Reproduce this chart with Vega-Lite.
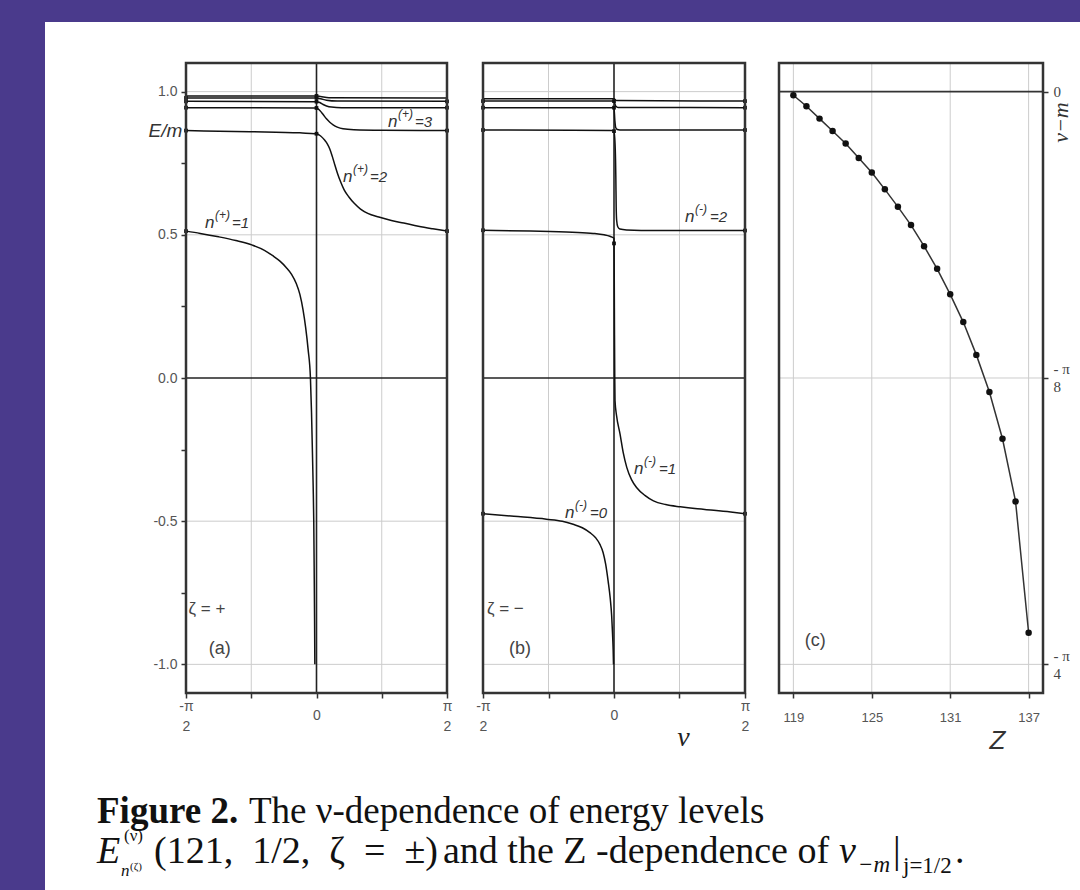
{
"$schema":"https://vega.github.io/schema/vega-lite/v6.json",
"width":1035,"height":868,"autosize":"none",
"padding":{"left":45,"top":22,"right":0,"bottom":0},
"background":"#4a3a8c",
"config":{"view":{"fill":"white","stroke":null}},
"datasets":{
"gridab":[{"d":"v","k":"l","v":-0.7853982},{"d":"v","k":"l","v":0.7853982},{"d":"h","k":"l","v":1},{"d":"h","k":"l","v":0.5},{"d":"h","k":"l","v":-0.5},{"d":"h","k":"l","v":-1},{"d":"v","k":"d","v":0},{"d":"h","k":"d","v":0}],
"gridc":[{"d":"v","k":"l","v":119},{"d":"v","k":"l","v":125},{"d":"v","k":"l","v":131},{"d":"v","k":"l","v":137},{"d":"h","k":"l","v":-0.3926991},{"d":"h","k":"l","v":-0.7853982},{"d":"h","k":"d","v":0}],
"curves":[
{"p":"a","s":"a1","nu":-1.5708,"E":0.513},{"p":"a","s":"a1","nu":-1.4,"E":0.505},{"p":"a","s":"a1","nu":-1.178,"E":0.493},{"p":"a","s":"a1","nu":-0.971,"E":0.48},{"p":"a","s":"a1","nu":-0.771,"E":0.464},{"p":"a","s":"a1","nu":-0.627,"E":0.446},{"p":"a","s":"a1","nu":-0.527,"E":0.427},{"p":"a","s":"a1","nu":-0.44,"E":0.408},{"p":"a","s":"a1","nu":-0.365,"E":0.386},{"p":"a","s":"a1","nu":-0.3,"E":0.362},{"p":"a","s":"a1","nu":-0.2435,"E":0.33},{"p":"a","s":"a1","nu":-0.2,"E":0.292},{"p":"a","s":"a1","nu":-0.162,"E":0.238},{"p":"a","s":"a1","nu":-0.13,"E":0.175},{"p":"a","s":"a1","nu":-0.101,"E":0.1},{"p":"a","s":"a1","nu":-0.073,"E":0.0},{"p":"a","s":"a1","nu":-0.06,"E":-0.12},{"p":"a","s":"a1","nu":-0.0487,"E":-0.264},{"p":"a","s":"a1","nu":-0.04,"E":-0.38},{"p":"a","s":"a1","nu":-0.033,"E":-0.499},{"p":"a","s":"a1","nu":-0.027,"E":-0.7},{"p":"a","s":"a1","nu":-0.023,"E":-0.85},{"p":"a","s":"a1","nu":-0.02,"E":-1.0},
{"p":"a","s":"a2","nu":-1.5708,"E":0.864},{"p":"a","s":"a2","nu":-0.8,"E":0.86},{"p":"a","s":"a2","nu":-0.2,"E":0.856},{"p":"a","s":"a2","nu":-0.02,"E":0.853},{"p":"a","s":"a2","nu":0.0,"E":0.853},{"p":"a","s":"a2","nu":0.05,"E":0.845},{"p":"a","s":"a2","nu":0.1,"E":0.83},{"p":"a","s":"a2","nu":0.13,"E":0.818},{"p":"a","s":"a2","nu":0.16,"E":0.8},{"p":"a","s":"a2","nu":0.191,"E":0.773},{"p":"a","s":"a2","nu":0.22,"E":0.745},{"p":"a","s":"a2","nu":0.252,"E":0.715},{"p":"a","s":"a2","nu":0.29,"E":0.685},{"p":"a","s":"a2","nu":0.333,"E":0.657},{"p":"a","s":"a2","nu":0.39,"E":0.632},{"p":"a","s":"a2","nu":0.454,"E":0.61},{"p":"a","s":"a2","nu":0.53,"E":0.59},{"p":"a","s":"a2","nu":0.617,"E":0.575},{"p":"a","s":"a2","nu":0.75,"E":0.562},{"p":"a","s":"a2","nu":0.901,"E":0.55},{"p":"a","s":"a2","nu":1.05,"E":0.541},{"p":"a","s":"a2","nu":1.226,"E":0.53},{"p":"a","s":"a2","nu":1.4,"E":0.521},{"p":"a","s":"a2","nu":1.5708,"E":0.513},
{"p":"a","s":"a3","nu":-1.5708,"E":0.944},{"p":"a","s":"a3","nu":-0.02,"E":0.943},{"p":"a","s":"a3","nu":0.0,"E":0.943},{"p":"a","s":"a3","nu":0.04,"E":0.934},{"p":"a","s":"a3","nu":0.08,"E":0.92},{"p":"a","s":"a3","nu":0.12,"E":0.905},{"p":"a","s":"a3","nu":0.16,"E":0.893},{"p":"a","s":"a3","nu":0.2,"E":0.884},{"p":"a","s":"a3","nu":0.25,"E":0.876},{"p":"a","s":"a3","nu":0.32,"E":0.87},{"p":"a","s":"a3","nu":0.45,"E":0.867},{"p":"a","s":"a3","nu":0.8,"E":0.865},{"p":"a","s":"a3","nu":1.5708,"E":0.864},
{"p":"a","s":"a4","nu":-1.5708,"E":0.966},{"p":"a","s":"a4","nu":0.0,"E":0.965},{"p":"a","s":"a4","nu":0.04,"E":0.962},{"p":"a","s":"a4","nu":0.08,"E":0.955},{"p":"a","s":"a4","nu":0.12,"E":0.95},{"p":"a","s":"a4","nu":0.18,"E":0.946},{"p":"a","s":"a4","nu":0.3,"E":0.944},{"p":"a","s":"a4","nu":1.5708,"E":0.944},
{"p":"a","s":"a5","nu":-1.5708,"E":0.978},{"p":"a","s":"a5","nu":0.0,"E":0.978},{"p":"a","s":"a5","nu":0.05,"E":0.975},{"p":"a","s":"a5","nu":0.12,"E":0.97},{"p":"a","s":"a5","nu":0.25,"E":0.967},{"p":"a","s":"a5","nu":1.5708,"E":0.966},
{"p":"a","s":"a6","nu":-1.5708,"E":0.985},{"p":"a","s":"a6","nu":0.0,"E":0.985},{"p":"a","s":"a6","nu":0.05,"E":0.983},{"p":"a","s":"a6","nu":0.15,"E":0.979},{"p":"a","s":"a6","nu":1.5708,"E":0.978},
{"p":"b","s":"b0","nu":-1.5708,"E":-0.474},{"p":"b","s":"b0","nu":-1.2,"E":-0.483},{"p":"b","s":"b0","nu":-0.811,"E":-0.493},{"p":"b","s":"b0","nu":-0.62,"E":-0.5},{"p":"b","s":"b0","nu":-0.49,"E":-0.511},{"p":"b","s":"b0","nu":-0.38,"E":-0.523},{"p":"b","s":"b0","nu":-0.289,"E":-0.54},{"p":"b","s":"b0","nu":-0.22,"E":-0.558},{"p":"b","s":"b0","nu":-0.169,"E":-0.581},{"p":"b","s":"b0","nu":-0.13,"E":-0.61},{"p":"b","s":"b0","nu":-0.1,"E":-0.65},{"p":"b","s":"b0","nu":-0.07,"E":-0.71},{"p":"b","s":"b0","nu":-0.045,"E":-0.77},{"p":"b","s":"b0","nu":-0.028,"E":-0.83},{"p":"b","s":"b0","nu":-0.018,"E":-0.89},{"p":"b","s":"b0","nu":-0.01,"E":-0.95},{"p":"b","s":"b0","nu":-0.006,"E":-1.0},
{"p":"b","s":"b1","nu":-1.5708,"E":0.516},{"p":"b","s":"b1","nu":-1.0,"E":0.513},{"p":"b","s":"b1","nu":-0.5,"E":0.509},{"p":"b","s":"b1","nu":-0.25,"E":0.505},{"p":"b","s":"b1","nu":-0.12,"E":0.5},{"p":"b","s":"b1","nu":-0.05,"E":0.495},{"p":"b","s":"b1","nu":-0.01,"E":0.49},{"p":"b","s":"b1","nu":0.0,"E":0.488},{"p":"b","s":"b1","nu":0.003,"E":0.35},{"p":"b","s":"b1","nu":0.006,"E":0.15},{"p":"b","s":"b1","nu":0.009,"E":0.0},{"p":"b","s":"b1","nu":0.012,"E":-0.079},{"p":"b","s":"b1","nu":0.03,"E":-0.13},{"p":"b","s":"b1","nu":0.072,"E":-0.195},{"p":"b","s":"b1","nu":0.11,"E":-0.26},{"p":"b","s":"b1","nu":0.153,"E":-0.312},{"p":"b","s":"b1","nu":0.21,"E":-0.355},{"p":"b","s":"b1","nu":0.273,"E":-0.383},{"p":"b","s":"b1","nu":0.37,"E":-0.41},{"p":"b","s":"b1","nu":0.473,"E":-0.429},{"p":"b","s":"b1","nu":0.62,"E":-0.442},{"p":"b","s":"b1","nu":0.795,"E":-0.45},{"p":"b","s":"b1","nu":1.0,"E":-0.457},{"p":"b","s":"b1","nu":1.196,"E":-0.462},{"p":"b","s":"b1","nu":1.4,"E":-0.468},{"p":"b","s":"b1","nu":1.5708,"E":-0.474},
{"p":"b","s":"b2","nu":-1.5708,"E":0.866},{"p":"b","s":"b2","nu":-0.5,"E":0.865},{"p":"b","s":"b2","nu":-0.02,"E":0.864},{"p":"b","s":"b2","nu":0.0,"E":0.862},{"p":"b","s":"b2","nu":0.015,"E":0.8},{"p":"b","s":"b2","nu":0.022,"E":0.7},{"p":"b","s":"b2","nu":0.026,"E":0.6},{"p":"b","s":"b2","nu":0.032,"E":0.55},{"p":"b","s":"b2","nu":0.045,"E":0.528},{"p":"b","s":"b2","nu":0.07,"E":0.52},{"p":"b","s":"b2","nu":0.15,"E":0.517},{"p":"b","s":"b2","nu":0.5,"E":0.515},{"p":"b","s":"b2","nu":1.5708,"E":0.515},
{"p":"b","s":"b3","nu":-1.5708,"E":0.944},{"p":"b","s":"b3","nu":0.0,"E":0.944},{"p":"b","s":"b3","nu":0.01,"E":0.9},{"p":"b","s":"b3","nu":0.02,"E":0.875},{"p":"b","s":"b3","nu":0.04,"E":0.868},{"p":"b","s":"b3","nu":0.1,"E":0.866},{"p":"b","s":"b3","nu":1.5708,"E":0.866},
{"p":"b","s":"b4","nu":-1.5708,"E":0.967},{"p":"b","s":"b4","nu":0.0,"E":0.967},{"p":"b","s":"b4","nu":0.02,"E":0.95},{"p":"b","s":"b4","nu":0.05,"E":0.945},{"p":"b","s":"b4","nu":1.5708,"E":0.944},
{"p":"b","s":"b5","nu":-1.5708,"E":0.975},{"p":"b","s":"b5","nu":0.0,"E":0.975},{"p":"b","s":"b5","nu":0.03,"E":0.969},{"p":"b","s":"b5","nu":1.5708,"E":0.967}
],
"ends":[
{"p":"a","nu":-1.5708,"E":0.513},{"p":"a","nu":-1.5708,"E":0.864},{"p":"a","nu":-1.5708,"E":0.944},{"p":"a","nu":-1.5708,"E":0.966},{"p":"a","nu":-1.5708,"E":0.978},
{"p":"a","nu":1.5708,"E":0.513},{"p":"a","nu":1.5708,"E":0.864},{"p":"a","nu":1.5708,"E":0.944},{"p":"a","nu":1.5708,"E":0.966},
{"p":"a","nu":0,"E":0.853},{"p":"a","nu":0,"E":0.943},{"p":"a","nu":0,"E":0.965},{"p":"a","nu":0,"E":0.978},{"p":"a","nu":0,"E":0.985},
{"p":"b","nu":-1.5708,"E":-0.474},{"p":"b","nu":-1.5708,"E":0.516},{"p":"b","nu":-1.5708,"E":0.866},{"p":"b","nu":-1.5708,"E":0.944},{"p":"b","nu":-1.5708,"E":0.967},
{"p":"b","nu":1.5708,"E":-0.474},{"p":"b","nu":1.5708,"E":0.515},{"p":"b","nu":1.5708,"E":0.866},{"p":"b","nu":1.5708,"E":0.944},{"p":"b","nu":1.5708,"E":0.967},
{"p":"b","nu":0,"E":0.47},{"p":"b","nu":0,"E":0.862},{"p":"b","nu":0,"E":0.944},{"p":"b","nu":0,"E":0.967}
],
"ann":[
{"p":"a","k":"n","nu":-1.342,"E":0.545,"sup":"(+)","t":"=1"},{"p":"a","k":"n","nu":0.319,"E":0.705,"sup":"(+)","t":"=2"},{"p":"a","k":"n","nu":0.861,"E":0.897,"sup":"(+)","t":"=3"},
{"p":"a","k":"z","nu":-1.54,"E":-0.807,"t":"ζ = +"},{"p":"a","k":"c","nu":-1.164,"E":-0.947,"t":"(a)"},
{"p":"b","k":"n","nu":0.851,"E":0.566,"sup":"(-)","t":"=2"},{"p":"b","k":"n","nu":0.24,"E":-0.314,"sup":"(-)","t":"=1"},{"p":"b","k":"n","nu":-0.588,"E":-0.468,"sup":"(-)","t":"=0"},
{"p":"b","k":"z","nu":-1.523,"E":-0.807,"t":"ζ = −"},{"p":"b","k":"c","nu":-1.127,"E":-0.947,"t":"(b)"}
],
"zdat":[
{"Z":119,"nu":-0.005},{"Z":120,"nu":-0.020},{"Z":121,"nu":-0.037},{"Z":122,"nu":-0.054},{"Z":123,"nu":-0.071},{"Z":124,"nu":-0.091},{"Z":125,"nu":-0.111},{"Z":126,"nu":-0.134},{"Z":127,"nu":-0.158},{"Z":128,"nu":-0.183},{"Z":129,"nu":-0.212},{"Z":130,"nu":-0.243},{"Z":131,"nu":-0.278},{"Z":132,"nu":-0.316},{"Z":133,"nu":-0.361},{"Z":134,"nu":-0.412},{"Z":135,"nu":-0.476},{"Z":136,"nu":-0.562},{"Z":137,"nu":-0.742}
],
"annc":[{"Z":120.68,"nu":-0.7538,"t":"(c)"}],
"caption":[
{"line":1,"seg":"fig","t":"Figure 2."},{"line":1,"seg":"l1","t":"The ν-dependence of energy levels"},
{"line":2,"seg":"E","t":"E"},{"line":2,"seg":"sup","t":"(ν)"},{"line":2,"seg":"sub","t":"n"},{"line":2,"seg":"subsup","t":"(ζ)"},
{"line":2,"seg":"l2a","t":"(121,\u00a0 1/2,\u00a0 ζ\u00a0 =\u00a0 ±)"},{"line":2,"seg":"l2b","t":"and the Z\u00a0-dependence of"},{"line":2,"seg":"nu","t":"ν"},{"line":2,"seg":"m","t":"−m"},{"line":2,"seg":"bar","t":"|"},{"line":2,"seg":"jj","t":"j=1/2"},{"line":2,"seg":"dot","t":"."}
]
},
"layer":[
{"layer":[
 {"data":{"name":"gridab"},"transform":[{"filter":"datum.d=='v' && datum.k=='l'"}],"mark":{"type":"rule","color":"#cccccc","strokeWidth":1},
  "encoding":{"x":{"field":"v","type":"quantitative","scale":{"domain":[-1.5708,1.5708],"range":[141,402],"nice":false,"zero":false}},"y":{"datum":-1.1,"type":"quantitative","scale":{"domain":[-1.1,1.1],"range":[671,41],"nice":false,"zero":false}},"y2":{"datum":1.1}}},
 {"data":{"name":"gridab"},"transform":[{"filter":"datum.d=='h' && datum.k=='l'"}],"mark":{"type":"rule","color":"#cccccc","strokeWidth":1},
  "encoding":{"y":{"field":"v","type":"quantitative","scale":{"domain":[-1.1,1.1],"range":[671,41],"nice":false,"zero":false}},"x":{"datum":-1.5708,"type":"quantitative","scale":{"domain":[-1.5708,1.5708],"range":[141,402],"nice":false,"zero":false}},"x2":{"datum":1.5708}}},
 {"data":{"name":"gridab"},"transform":[{"filter":"datum.d=='v' && datum.k=='d'"}],"mark":{"type":"rule","color":"#222222","strokeWidth":1.6},
  "encoding":{"x":{"field":"v","type":"quantitative","scale":{"domain":[-1.5708,1.5708],"range":[141,402],"nice":false,"zero":false}},"y":{"datum":-1.1,"type":"quantitative","scale":{"domain":[-1.1,1.1],"range":[671,41],"nice":false,"zero":false}},"y2":{"datum":1.1}}},
 {"data":{"name":"gridab"},"transform":[{"filter":"datum.d=='h' && datum.k=='d'"}],"mark":{"type":"rule","color":"#222222","strokeWidth":1.6},
  "encoding":{"y":{"field":"v","type":"quantitative","scale":{"domain":[-1.1,1.1],"range":[671,41],"nice":false,"zero":false}},"x":{"datum":-1.5708,"type":"quantitative","scale":{"domain":[-1.5708,1.5708],"range":[141,402],"nice":false,"zero":false}},"x2":{"datum":1.5708}}},
 {"data":{"name":"curves"},"transform":[{"filter":"datum.p=='a'"}],"mark":{"type":"line","color":"#111111","strokeWidth":1.5,"interpolate":"monotone"},
  "encoding":{"x":{"field":"nu","type":"quantitative","scale":{"domain":[-1.5708,1.5708],"range":[141,402],"nice":false,"zero":false},
     "axis":{"orient":"bottom","offset":-197,"values":[-1.5707963,-0.7853982,0,0.7853982,1.5707963],"labelExpr":"datum.value < -1 ? ['-π', ' 2'] : datum.value > 1 ? ['π', '2'] : abs(datum.value) < 0.01 ? '0' : ''","grid":false,"domain":false,"ticks":true,"tickSize":5,"tickColor":"#333333","tickWidth":1.5,"labelBaseline":"middle","labelPadding":{"condition":{"test":"abs(datum.value) > 1","value":8},"value":17},"labelFont":"Liberation Sans","labelFontSize":14,"labelColor":"#555555","labelLineHeight":20,"labelOverlap":false,"labelFlush":false,"title":null}},
   "y":{"field":"E","type":"quantitative","scale":{"domain":[-1.1,1.1],"range":[671,41],"nice":false,"zero":false},
     "axis":{"orient":"left","offset":-141,"values":[-1,-0.75,-0.5,-0.25,0,0.25,0.5,0.75,1],"labelExpr":"abs(datum.value*2 - round(datum.value*2)) < 0.001 ? replace(format(datum.value, '.1f'), '−', '-') : ''","grid":false,"domain":false,"ticks":true,"tickSize":5,"tickColor":"#333333","tickWidth":1.5,"labelPadding":4,"labelFont":"Liberation Sans","labelFontSize":14,"labelColor":"#555555","labelOverlap":false,"labelFlush":false,"title":"E/m","titleX":-21,"titleY":108,"titleAngle":0,"titleAlign":"center","titleBaseline":"middle","titleFont":"Liberation Sans","titleFontSize":19,"titleFontStyle":"italic","titleFontWeight":"normal","titleColor":"#333333"}},
   "detail":{"field":"s"}}},
 {"data":{"name":"ends"},"transform":[{"filter":"datum.p=='a'"}],"mark":{"type":"square","color":"#111111","size":14,"opacity":1},
  "encoding":{"x":{"field":"nu","type":"quantitative","scale":{"domain":[-1.5708,1.5708],"range":[141,402],"nice":false,"zero":false}},"y":{"field":"E","type":"quantitative","scale":{"domain":[-1.1,1.1],"range":[671,41],"nice":false,"zero":false}}}},
 {"data":{"name":"ann"},"transform":[{"filter":"datum.p=='a' && datum.k=='n'"}],"mark":{"type":"text","font":"Liberation Sans","fontSize":17,"fontStyle":"italic","color":"#333333","align":"left","baseline":"alphabetic","dy":6},
  "encoding":{"x":{"field":"nu","type":"quantitative","scale":{"domain":[-1.5708,1.5708],"range":[141,402],"nice":false,"zero":false}},"y":{"field":"E","type":"quantitative","scale":{"domain":[-1.1,1.1],"range":[671,41],"nice":false,"zero":false}},"text":{"value":"n"}}},
 {"data":{"name":"ann"},"transform":[{"filter":"datum.p=='a' && datum.k=='n'"}],"mark":{"type":"text","font":"Liberation Sans","fontSize":12,"fontStyle":"italic","color":"#333333","align":"left","baseline":"alphabetic","dx":10,"dy":-3},
  "encoding":{"x":{"field":"nu","type":"quantitative","scale":{"domain":[-1.5708,1.5708],"range":[141,402],"nice":false,"zero":false}},"y":{"field":"E","type":"quantitative","scale":{"domain":[-1.1,1.1],"range":[671,41],"nice":false,"zero":false}},"text":{"field":"sup"}}},
 {"data":{"name":"ann"},"transform":[{"filter":"datum.p=='a' && datum.k=='n'"}],"mark":{"type":"text","font":"Liberation Sans","fontSize":15,"fontStyle":"italic","color":"#333333","align":"left","baseline":"alphabetic","dx":27,"dy":6},
  "encoding":{"x":{"field":"nu","type":"quantitative","scale":{"domain":[-1.5708,1.5708],"range":[141,402],"nice":false,"zero":false}},"y":{"field":"E","type":"quantitative","scale":{"domain":[-1.1,1.1],"range":[671,41],"nice":false,"zero":false}},"text":{"field":"t"}}},
 {"data":{"name":"ann"},"transform":[{"filter":"datum.p=='a' && datum.k=='z'"}],"mark":{"type":"text","font":"Liberation Sans","fontSize":17,"color":"#444444","align":"left","baseline":"middle"},
  "encoding":{"x":{"field":"nu","type":"quantitative","scale":{"domain":[-1.5708,1.5708],"range":[141,402],"nice":false,"zero":false}},"y":{"field":"E","type":"quantitative","scale":{"domain":[-1.1,1.1],"range":[671,41],"nice":false,"zero":false}},"text":{"field":"t"}}},
 {"data":{"name":"ann"},"transform":[{"filter":"datum.p=='a' && datum.k=='c'"}],"mark":{"type":"text","font":"Liberation Sans","fontSize":18,"color":"#444444","align":"center","baseline":"middle"},
  "encoding":{"x":{"field":"nu","type":"quantitative","scale":{"domain":[-1.5708,1.5708],"range":[141,402],"nice":false,"zero":false}},"y":{"field":"E","type":"quantitative","scale":{"domain":[-1.1,1.1],"range":[671,41],"nice":false,"zero":false}},"text":{"field":"t"}}},
 {"data":{"values":[{}]},"mark":{"type":"rect","fill":"transparent","stroke":"#333333","strokeWidth":2.5},
  "encoding":{"x":{"datum":-1.5708,"type":"quantitative","scale":{"domain":[-1.5708,1.5708],"range":[141,402],"nice":false,"zero":false}},"x2":{"datum":1.5708},"y":{"datum":-1.1,"type":"quantitative","scale":{"domain":[-1.1,1.1],"range":[671,41],"nice":false,"zero":false}},"y2":{"datum":1.1}}}
]},
{"layer":[
 {"data":{"name":"gridab"},"transform":[{"filter":"datum.d=='v' && datum.k=='l'"}],"mark":{"type":"rule","color":"#cccccc","strokeWidth":1},
  "encoding":{"x":{"field":"v","type":"quantitative","scale":{"domain":[-1.5708,1.5708],"range":[438,700],"nice":false,"zero":false}},"y":{"datum":-1.1,"type":"quantitative","scale":{"domain":[-1.1,1.1],"range":[671,41],"nice":false,"zero":false}},"y2":{"datum":1.1}}},
 {"data":{"name":"gridab"},"transform":[{"filter":"datum.d=='h' && datum.k=='l'"}],"mark":{"type":"rule","color":"#cccccc","strokeWidth":1},
  "encoding":{"y":{"field":"v","type":"quantitative","scale":{"domain":[-1.1,1.1],"range":[671,41],"nice":false,"zero":false}},"x":{"datum":-1.5708,"type":"quantitative","scale":{"domain":[-1.5708,1.5708],"range":[438,700],"nice":false,"zero":false}},"x2":{"datum":1.5708}}},
 {"data":{"name":"gridab"},"transform":[{"filter":"datum.d=='v' && datum.k=='d'"}],"mark":{"type":"rule","color":"#222222","strokeWidth":1.6},
  "encoding":{"x":{"field":"v","type":"quantitative","scale":{"domain":[-1.5708,1.5708],"range":[438,700],"nice":false,"zero":false}},"y":{"datum":-1.1,"type":"quantitative","scale":{"domain":[-1.1,1.1],"range":[671,41],"nice":false,"zero":false}},"y2":{"datum":1.1}}},
 {"data":{"name":"gridab"},"transform":[{"filter":"datum.d=='h' && datum.k=='d'"}],"mark":{"type":"rule","color":"#222222","strokeWidth":1.6},
  "encoding":{"y":{"field":"v","type":"quantitative","scale":{"domain":[-1.1,1.1],"range":[671,41],"nice":false,"zero":false}},"x":{"datum":-1.5708,"type":"quantitative","scale":{"domain":[-1.5708,1.5708],"range":[438,700],"nice":false,"zero":false}},"x2":{"datum":1.5708}}},
 {"data":{"name":"curves"},"transform":[{"filter":"datum.p=='b'"}],"mark":{"type":"line","color":"#111111","strokeWidth":1.5,"interpolate":"monotone"},
  "encoding":{"x":{"field":"nu","type":"quantitative","scale":{"domain":[-1.5708,1.5708],"range":[438,700],"nice":false,"zero":false},
     "axis":{"orient":"bottom","offset":-197,"values":[-1.5707963,-0.7853982,0,0.7853982,1.5707963],"labelExpr":"datum.value < -1 ? ['-π', ' 2'] : datum.value > 1 ? ['π', '2'] : abs(datum.value) < 0.01 ? '0' : ''","grid":false,"domain":false,"ticks":true,"tickSize":5,"tickColor":"#333333","tickWidth":1.5,"labelBaseline":"middle","labelPadding":{"condition":{"test":"abs(datum.value) > 1","value":8},"value":17},"labelFont":"Liberation Sans","labelFontSize":14,"labelColor":"#555555","labelLineHeight":20,"labelOverlap":false,"labelFlush":false,"title":"ν","titleX":638,"titleY":44,"titleAngle":0,"titleAlign":"center","titleBaseline":"middle","titleFont":"Liberation Serif","titleFontSize":28,"titleFontStyle":"italic","titleFontWeight":"normal","titleColor":"#222222"}},
   "y":{"field":"E","type":"quantitative","scale":{"domain":[-1.1,1.1],"range":[671,41],"nice":false,"zero":false},"axis":{"orient":"left","offset":-438,"values":[0],"labels":false,"ticks":false,"grid":false,"domain":false,"title":null}},
   "detail":{"field":"s"}}},
 {"data":{"name":"ends"},"transform":[{"filter":"datum.p=='b'"}],"mark":{"type":"square","color":"#111111","size":14,"opacity":1},
  "encoding":{"x":{"field":"nu","type":"quantitative","scale":{"domain":[-1.5708,1.5708],"range":[438,700],"nice":false,"zero":false}},"y":{"field":"E","type":"quantitative","scale":{"domain":[-1.1,1.1],"range":[671,41],"nice":false,"zero":false}}}},
 {"data":{"name":"ann"},"transform":[{"filter":"datum.p=='b' && datum.k=='n'"}],"mark":{"type":"text","font":"Liberation Sans","fontSize":17,"fontStyle":"italic","color":"#333333","align":"left","baseline":"alphabetic","dy":6},
  "encoding":{"x":{"field":"nu","type":"quantitative","scale":{"domain":[-1.5708,1.5708],"range":[438,700],"nice":false,"zero":false}},"y":{"field":"E","type":"quantitative","scale":{"domain":[-1.1,1.1],"range":[671,41],"nice":false,"zero":false}},"text":{"value":"n"}}},
 {"data":{"name":"ann"},"transform":[{"filter":"datum.p=='b' && datum.k=='n'"}],"mark":{"type":"text","font":"Liberation Sans","fontSize":12,"fontStyle":"italic","color":"#333333","align":"left","baseline":"alphabetic","dx":10,"dy":-3},
  "encoding":{"x":{"field":"nu","type":"quantitative","scale":{"domain":[-1.5708,1.5708],"range":[438,700],"nice":false,"zero":false}},"y":{"field":"E","type":"quantitative","scale":{"domain":[-1.1,1.1],"range":[671,41],"nice":false,"zero":false}},"text":{"field":"sup"}}},
 {"data":{"name":"ann"},"transform":[{"filter":"datum.p=='b' && datum.k=='n'"}],"mark":{"type":"text","font":"Liberation Sans","fontSize":15,"fontStyle":"italic","color":"#333333","align":"left","baseline":"alphabetic","dx":25,"dy":6},
  "encoding":{"x":{"field":"nu","type":"quantitative","scale":{"domain":[-1.5708,1.5708],"range":[438,700],"nice":false,"zero":false}},"y":{"field":"E","type":"quantitative","scale":{"domain":[-1.1,1.1],"range":[671,41],"nice":false,"zero":false}},"text":{"field":"t"}}},
 {"data":{"name":"ann"},"transform":[{"filter":"datum.p=='b' && datum.k=='z'"}],"mark":{"type":"text","font":"Liberation Sans","fontSize":17,"color":"#444444","align":"left","baseline":"middle"},
  "encoding":{"x":{"field":"nu","type":"quantitative","scale":{"domain":[-1.5708,1.5708],"range":[438,700],"nice":false,"zero":false}},"y":{"field":"E","type":"quantitative","scale":{"domain":[-1.1,1.1],"range":[671,41],"nice":false,"zero":false}},"text":{"field":"t"}}},
 {"data":{"name":"ann"},"transform":[{"filter":"datum.p=='b' && datum.k=='c'"}],"mark":{"type":"text","font":"Liberation Sans","fontSize":18,"color":"#444444","align":"center","baseline":"middle"},
  "encoding":{"x":{"field":"nu","type":"quantitative","scale":{"domain":[-1.5708,1.5708],"range":[438,700],"nice":false,"zero":false}},"y":{"field":"E","type":"quantitative","scale":{"domain":[-1.1,1.1],"range":[671,41],"nice":false,"zero":false}},"text":{"field":"t"}}},
 {"data":{"values":[{}]},"mark":{"type":"rect","fill":"transparent","stroke":"#333333","strokeWidth":2.5},
  "encoding":{"x":{"datum":-1.5708,"type":"quantitative","scale":{"domain":[-1.5708,1.5708],"range":[438,700],"nice":false,"zero":false}},"x2":{"datum":1.5708},"y":{"datum":-1.1,"type":"quantitative","scale":{"domain":[-1.1,1.1],"range":[671,41],"nice":false,"zero":false}},"y2":{"datum":1.1}}}
]},
{"layer":[
 {"data":{"name":"gridc"},"transform":[{"filter":"datum.d=='v' && datum.k=='l'"}],"mark":{"type":"rule","color":"#cccccc","strokeWidth":1},
  "encoding":{"x":{"field":"v","type":"quantitative","scale":{"domain":[117.9,138.1],"range":[734,998],"nice":false,"zero":false}},"y":{"datum":-0.82467,"type":"quantitative","scale":{"domain":[-0.82467,0.03927],"range":[671,41],"nice":false,"zero":false}},"y2":{"datum":0.03927}}},
 {"data":{"name":"gridc"},"transform":[{"filter":"datum.d=='h' && datum.k=='l'"}],"mark":{"type":"rule","color":"#cccccc","strokeWidth":1},
  "encoding":{"y":{"field":"v","type":"quantitative","scale":{"domain":[-0.82467,0.03927],"range":[671,41],"nice":false,"zero":false}},"x":{"datum":117.9,"type":"quantitative","scale":{"domain":[117.9,138.1],"range":[734,998],"nice":false,"zero":false}},"x2":{"datum":138.1}}},
 {"data":{"name":"gridc"},"transform":[{"filter":"datum.d=='h' && datum.k=='d'"}],"mark":{"type":"rule","color":"#333333","strokeWidth":1.6},
  "encoding":{"y":{"field":"v","type":"quantitative","scale":{"domain":[-0.82467,0.03927],"range":[671,41],"nice":false,"zero":false}},"x":{"datum":117.9,"type":"quantitative","scale":{"domain":[117.9,138.1],"range":[734,998],"nice":false,"zero":false}},"x2":{"datum":138.1}}},
 {"data":{"name":"zdat"},"mark":{"type":"line","color":"#333333","strokeWidth":1.5},
  "encoding":{"x":{"field":"Z","type":"quantitative","scale":{"domain":[117.9,138.1],"range":[734,998],"nice":false,"zero":false},
     "axis":{"orient":"bottom","offset":-197,"values":[119,125,131,137],"format":"d","grid":false,"domain":false,"ticks":true,"tickSize":5,"tickColor":"#333333","tickWidth":1.5,"labelBaseline":"middle","labelPadding":19,"labelFont":"Liberation Sans","labelFontSize":13,"labelColor":"#555555","labelOverlap":false,"labelFlush":false,"title":"Z","titleX":952,"titleY":47,"titleAngle":0,"titleAlign":"center","titleBaseline":"middle","titleFont":"Liberation Sans","titleFontSize":26,"titleFontStyle":"italic","titleFontWeight":"normal","titleColor":"#333333"}},
   "y":{"field":"nu","type":"quantitative","scale":{"domain":[-0.82467,0.03927],"range":[671,41],"nice":false,"zero":false},
     "axis":{"orient":"right","offset":-37,"values":[0,-0.3926991,-0.7853982],"labelExpr":"datum.value > -0.1 ? '0' : datum.value > -0.5 ? ['- π', '   8'] : ['- π', '   4']","grid":false,"domain":false,"ticks":true,"tickSize":5,"tickColor":"#333333","tickWidth":1.5,"labelAlign":"left","labelBaseline":"middle","labelPadding":5,"labelOffset":{"condition":{"test":"datum.value < -0.1","value":-9},"value":0},"labelFont":"Liberation Serif","labelFontSize":15,"labelColor":"#444444","labelLineHeight":18,"labelOverlap":false,"labelFlush":false,"title":"ν−m","titleX":17,"titleY":100,"titleAngle":270,"titleAlign":"center","titleBaseline":"middle","titleFont":"Liberation Serif","titleFontSize":22,"titleFontStyle":"italic","titleFontWeight":"normal","titleColor":"#333333"}}}},
 {"data":{"name":"zdat"},"mark":{"type":"point","filled":true,"color":"#111111","size":42,"opacity":1},
  "encoding":{"x":{"field":"Z","type":"quantitative","scale":{"domain":[117.9,138.1],"range":[734,998],"nice":false,"zero":false}},"y":{"field":"nu","type":"quantitative","scale":{"domain":[-0.82467,0.03927],"range":[671,41],"nice":false,"zero":false}}}},
 {"data":{"name":"annc"},"mark":{"type":"text","font":"Liberation Sans","fontSize":18,"color":"#444444","align":"center","baseline":"middle"},
  "encoding":{"x":{"field":"Z","type":"quantitative","scale":{"domain":[117.9,138.1],"range":[734,998],"nice":false,"zero":false}},"y":{"field":"nu","type":"quantitative","scale":{"domain":[-0.82467,0.03927],"range":[671,41],"nice":false,"zero":false}},"text":{"field":"t"}}},
 {"data":{"values":[{}]},"mark":{"type":"rect","fill":"transparent","stroke":"#333333","strokeWidth":2.5},
  "encoding":{"x":{"datum":117.9,"type":"quantitative","scale":{"domain":[117.9,138.1],"range":[734,998],"nice":false,"zero":false}},"x2":{"datum":138.1},"y":{"datum":-0.82467,"type":"quantitative","scale":{"domain":[-0.82467,0.03927],"range":[671,41],"nice":false,"zero":false}},"y2":{"datum":0.03927}}}
]},
{"data":{"name":"caption"},"layer":[
 {"transform":[{"filter":"datum.seg=='fig'"}],"mark":{"type":"text","align":"left","baseline":"alphabetic","font":"Liberation Serif","fontSize":37,"fontWeight":"bold","color":"#111111"},
  "encoding":{"x":{"datum":0,"type":"quantitative","scale":{"domain":[0,1],"range":[52,1052]},"axis":null},"y":{"field":"line","type":"quantitative","scale":{"domain":[1,2],"range":[801,841]},"axis":null},"text":{"field":"t"}}},
 {"transform":[{"filter":"datum.seg=='l1'"}],"mark":{"type":"text","align":"left","baseline":"alphabetic","font":"Liberation Serif","fontSize":37,"color":"#111111","dx":152},
  "encoding":{"x":{"datum":0,"type":"quantitative","scale":{"domain":[0,1],"range":[52,1052]},"axis":null},"y":{"field":"line","type":"quantitative","scale":{"domain":[1,2],"range":[801,841]},"axis":null},"text":{"field":"t"}}},
 {"transform":[{"filter":"datum.seg=='E'"}],"mark":{"type":"text","align":"left","baseline":"alphabetic","font":"Liberation Serif","fontSize":38,"fontStyle":"italic","color":"#111111"},
  "encoding":{"x":{"datum":0,"type":"quantitative","scale":{"domain":[0,1],"range":[52,1052]},"axis":null},"y":{"field":"line","type":"quantitative","scale":{"domain":[1,2],"range":[801,841]},"axis":null},"text":{"field":"t"}}},
 {"transform":[{"filter":"datum.seg=='sup'"}],"mark":{"type":"text","align":"left","baseline":"alphabetic","font":"Liberation Serif","fontSize":17,"color":"#111111","dx":27,"dy":-22},
  "encoding":{"x":{"datum":0,"type":"quantitative","scale":{"domain":[0,1],"range":[52,1052]},"axis":null},"y":{"field":"line","type":"quantitative","scale":{"domain":[1,2],"range":[801,841]},"axis":null},"text":{"field":"t"}}},
 {"transform":[{"filter":"datum.seg=='sub'"}],"mark":{"type":"text","align":"left","baseline":"alphabetic","font":"Liberation Serif","fontSize":17,"fontStyle":"italic","color":"#111111","dx":24,"dy":13},
  "encoding":{"x":{"datum":0,"type":"quantitative","scale":{"domain":[0,1],"range":[52,1052]},"axis":null},"y":{"field":"line","type":"quantitative","scale":{"domain":[1,2],"range":[801,841]},"axis":null},"text":{"field":"t"}}},
 {"transform":[{"filter":"datum.seg=='subsup'"}],"mark":{"type":"text","align":"left","baseline":"alphabetic","font":"Liberation Serif","fontSize":11,"color":"#111111","dx":33,"dy":7},
  "encoding":{"x":{"datum":0,"type":"quantitative","scale":{"domain":[0,1],"range":[52,1052]},"axis":null},"y":{"field":"line","type":"quantitative","scale":{"domain":[1,2],"range":[801,841]},"axis":null},"text":{"field":"t"}}},
 {"transform":[{"filter":"datum.seg=='l2a'"}],"mark":{"type":"text","align":"left","baseline":"alphabetic","font":"Liberation Serif","fontSize":38,"color":"#111111","dx":57},
  "encoding":{"x":{"datum":0,"type":"quantitative","scale":{"domain":[0,1],"range":[52,1052]},"axis":null},"y":{"field":"line","type":"quantitative","scale":{"domain":[1,2],"range":[801,841]},"axis":null},"text":{"field":"t"}}},
 {"transform":[{"filter":"datum.seg=='l2b'"}],"mark":{"type":"text","align":"left","baseline":"alphabetic","font":"Liberation Serif","fontSize":38,"color":"#111111","dx":346},
  "encoding":{"x":{"datum":0,"type":"quantitative","scale":{"domain":[0,1],"range":[52,1052]},"axis":null},"y":{"field":"line","type":"quantitative","scale":{"domain":[1,2],"range":[801,841]},"axis":null},"text":{"field":"t"}}},
 {"transform":[{"filter":"datum.seg=='nu'"}],"mark":{"type":"text","align":"left","baseline":"alphabetic","font":"Liberation Serif","fontSize":38,"fontStyle":"italic","color":"#111111","dx":742},
  "encoding":{"x":{"datum":0,"type":"quantitative","scale":{"domain":[0,1],"range":[52,1052]},"axis":null},"y":{"field":"line","type":"quantitative","scale":{"domain":[1,2],"range":[801,841]},"axis":null},"text":{"field":"t"}}},
 {"transform":[{"filter":"datum.seg=='m'"}],"mark":{"type":"text","align":"left","baseline":"alphabetic","font":"Liberation Serif","fontSize":23,"fontStyle":"italic","color":"#111111","dx":761,"dy":9},
  "encoding":{"x":{"datum":0,"type":"quantitative","scale":{"domain":[0,1],"range":[52,1052]},"axis":null},"y":{"field":"line","type":"quantitative","scale":{"domain":[1,2],"range":[801,841]},"axis":null},"text":{"field":"t"}}},
 {"transform":[{"filter":"datum.seg=='bar'"}],"mark":{"type":"text","align":"left","baseline":"alphabetic","font":"Liberation Serif","fontSize":38,"color":"#111111","dx":796},
  "encoding":{"x":{"datum":0,"type":"quantitative","scale":{"domain":[0,1],"range":[52,1052]},"axis":null},"y":{"field":"line","type":"quantitative","scale":{"domain":[1,2],"range":[801,841]},"axis":null},"text":{"field":"t"}}},
 {"transform":[{"filter":"datum.seg=='jj'"}],"mark":{"type":"text","align":"left","baseline":"alphabetic","font":"Liberation Serif","fontSize":23,"color":"#111111","dx":806,"dy":10},
  "encoding":{"x":{"datum":0,"type":"quantitative","scale":{"domain":[0,1],"range":[52,1052]},"axis":null},"y":{"field":"line","type":"quantitative","scale":{"domain":[1,2],"range":[801,841]},"axis":null},"text":{"field":"t"}}},
 {"transform":[{"filter":"datum.seg=='dot'"}],"mark":{"type":"text","align":"left","baseline":"alphabetic","font":"Liberation Serif","fontSize":38,"color":"#111111","dx":858},
  "encoding":{"x":{"datum":0,"type":"quantitative","scale":{"domain":[0,1],"range":[52,1052]},"axis":null},"y":{"field":"line","type":"quantitative","scale":{"domain":[1,2],"range":[801,841]},"axis":null},"text":{"field":"t"}}}
]}
],
"resolve":{"scale":{"x":"independent","y":"independent"},"axis":{"x":"independent","y":"independent"}}
}
